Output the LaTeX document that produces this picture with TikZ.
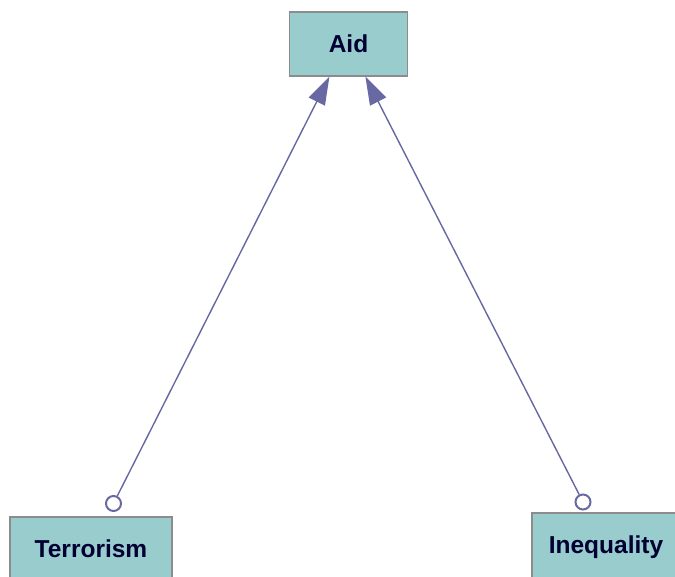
\documentclass[tikz,border=0pt]{standalone}
\usepackage{fontspec}
\setmainfont{Liberation Sans}
\usetikzlibrary{arrows.meta,calc}
\definecolor{boxfill}{HTML}{99CCCC}
\definecolor{boxline}{HTML}{8C8C8C}
\definecolor{label}{HTML}{000033}
\definecolor{link}{HTML}{6868A2}
\begin{document}
\begin{tikzpicture}[x=1pt,y=1pt,
  concept/.style={draw=boxline, line width=1.2pt, fill=boxfill, minimum height=64pt,
    inner sep=0pt, font=\fontsize{24.5}{28}\selectfont\bfseries, text=label},
  port/.style={circle, draw=link, line width=2pt, fill=white, minimum size=15pt, inner sep=0pt},
  influence/.style={draw=link, line width=1.4pt, -{Triangle[length=28pt,width=18pt]}, fill=link}]
\useasboundingbox (0,0) rectangle (675,-577);
\node[concept, minimum width=118pt] (aid) at (348.5,-44) {Aid};
\node[concept, minimum width=162pt] (terr) at (91,-549) {Terrorism};
\node[concept, minimum width=148pt, minimum height=68pt] (ineq) at (606,-547) {Inequality};
\node[port] (pt) at (113.5,-503.5) {};
\node[port] (pi) at (583,-502) {};
\coordinate (aidL) at ($(aid.south west)+(40.5pt,0)$);
\coordinate (aidR) at ($(aid.south west)+(76.5pt,0)$);
\draw[influence] (pt) -- (aidL);
\draw[influence] (pi) -- (aidR);
\end{tikzpicture}
\end{document}
